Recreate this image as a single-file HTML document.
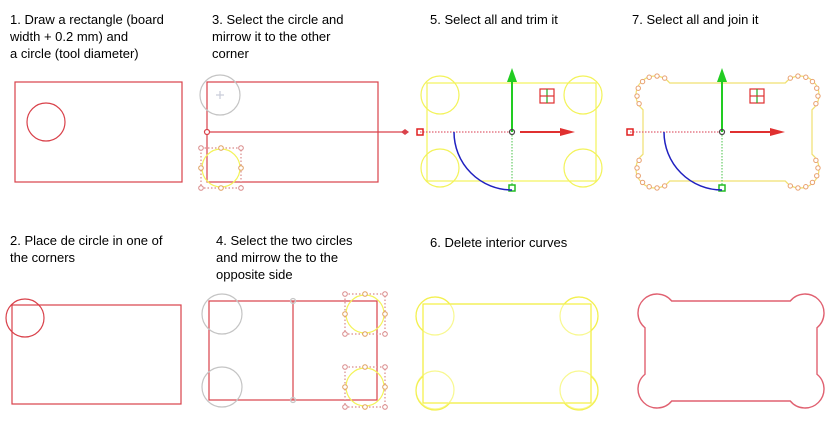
<!DOCTYPE html>
<html><head><meta charset="utf-8"><style>
body{margin:0;background:#fff;width:840px;height:426px;overflow:hidden}
svg text{font-family:"Liberation Sans",Arial,sans-serif;font-size:13px;fill:#000}
</style></head><body>
<svg id="s" width="840" height="426" viewBox="0 0 840 426">
<g>
<text x="10" y="24">1. Draw a rectangle (board</text>
<text x="10" y="41">width + 0.2 mm) and</text>
<text x="10" y="58">a circle (tool diameter)</text>
<text x="212" y="24">3. Select the circle and</text>
<text x="212" y="41">mirrow it to the other</text>
<text x="212" y="58">corner</text>
<text x="430" y="24">5. Select all and trim it</text>
<text x="632" y="24">7. Select all and join it</text>
<text x="10" y="245">2. Place de circle in one of</text>
<text x="10" y="262">the corners</text>
<text x="216" y="245">4. Select the two circles</text>
<text x="216" y="262">and mirrow the to the</text>
<text x="216" y="279">opposite side</text>
<text x="430" y="247">6. Delete interior curves</text>
</g>
<g id="g" fill="none"></g>
</svg>
<script>
const g=document.getElementById('g');
const NS='http://www.w3.org/2000/svg';
function el(t,a,name){const e=document.createElementNS(NS,t);for(const k in a)e.setAttribute(k,a[k]);


g.appendChild(e);return e;}
const RED='#d9414a',YEL='#f3f35a',GRY='#c4c4c4',HND='#d98a8a';
function rect(x,y,w,h,c,n){return el('rect',{x,y,width:w,height:h,stroke:c,'stroke-width':1.2},n);}
function circ(cx,cy,r,c,n,sw){return el('circle',{cx,cy,r,stroke:c,'stroke-width':sw||1.2},n);}
function line(x1,y1,x2,y2,c,n,dash,sw){const a={x1,y1,x2,y2,stroke:c,'stroke-width':sw||1.2};if(dash)a['stroke-dasharray']=dash;return el('line',a,n);}
function selBox(cx,cy,n){
  rect(cx-20,cy-20,40,40,HND,n+'-box').setAttribute('stroke-dasharray','1.5 2');
  circ(cx,cy,19,YEL,n);
  [[-20,-20],[0,-20],[20,-20],[-20,0],[20,0],[-20,20],[0,20],[20,20]].forEach(p=>{
    circ(cx+p[0],cy+p[1],2.3,(p[0]==0||p[1]==0)?'#e0a060':HND,n+'-handle',1).setAttribute('fill','#fff');});
}
function bone(x,y,w,h,off,r,c,n,sw){
  const dx=Math.sqrt(r*r-off*off);
  const d=`M${x+off+dx},${y} L${x+w-off-dx},${y} A${r},${r} 0 1 1 ${x+w},${y+off+dx}
  L${x+w},${y+h-off-dx} A${r},${r} 0 1 1 ${x+w-off-dx},${y+h} L${x+off+dx},${y+h}
  A${r},${r} 0 1 1 ${x},${y+h-off-dx} L${x},${y+off+dx} A${r},${r} 0 1 1 ${x+off+dx},${y} Z`;
  return el('path',{d,stroke:c,'stroke-width':sw||1.2},n);
}
function gizmo(ox,n){
  line(ox+85,132,ox+85,75,'#22cc22',n+'-y-axis',null,2);
  el('path',{d:`M${ox+80},82 L${ox+85},68 L${ox+90},82Z`,fill:'#22cc22'},n+'-y-arrow');
  line(ox+93,132,ox+135,132,'#e03030',n+'-x-axis',null,2);
  el('path',{d:`M${ox+133},128 L${ox+148},132 L${ox+133},136Z`,fill:'#e03030'},n+'-x-arrow');
  line(ox-7,132,ox+82,132,'#e06070',n+'-dotted-x',"1.5 1.5");
  line(ox+85,135,ox+85,186,'#66cc66',n+'-dotted-y',"1.5 1.5");
  rect(ox-10,129,6,6,'#e02020',n+'-handle-left').setAttribute('stroke-width',1.5);
  rect(ox+82,185,6,6,'#22bb22',n+'-handle-bottom').setAttribute('stroke-width',1.5);
  circ(ox+85,132,2.5,'#444',n+'-center');
  el('path',{d:`M${ox+27},132 A58,58 0 0 0 ${ox+85},190`,stroke:'#2020c0','stroke-width':1.5},n+'-rotation-arc');
  rect(ox+113,89,14,14,'#e03030',n+'-grid-icon');line(ox+120,89,ox+120,103,'#22aa22',n+'-grid-v');line(ox+113,96,ox+127,96,'#e03030',n+'-grid-h');
}
// Step 1
rect(15,82,167,100,RED,'step1-rectangle');circ(46,122,19,RED,'step1-circle');
// Step 3
rect(207,82,171,100,RED,'step3-rectangle');circ(220,95,20,GRY,'step3-original-circle');
line(216,95,224,95,'#c8ccd8','step3-center-h');line(220,91,220,99,'#c8ccd8','step3-center-v');
line(207,132,403,132,RED,'step3-mirror-line');circ(207,132,2.5,RED,'step3-mirror-start').setAttribute('fill','#fff');
el('path',{d:'M401,132 L405,129 L409,132 L405,135Z',fill:RED},'step3-mirror-end');
selBox(221,168,'step3-mirrored-circle');
// Step 5
rect(427,83,169,98,YEL,'step5-rectangle');
[[440,95],[583,95],[440,168],[583,168]].forEach(p=>circ(p[0],p[1],19,YEL,'step5-corner-circle'));
gizmo(427,'step5-gizmo');
// Step 7
bone(643,83,169,98,12,19,'#f0e070','step7-joined-shape');
[[643,95],[656,83],[812,95],[799,83],[643,169],[656,181],[812,169],[799,181]].forEach((p,i)=>{
  const cx=p[0]+(p[0]<700?13:-13)*(i%2==0?1:0), cy=p[1]+(p[1]<130?12:-12)*(i%2==1?1:0);
  const ccx=p[0]<700?656:799, ccy=p[1]<130?95:169;
  for(let k=0;k<5;k++){ }
});
[[656,95,1],[799,95,1],[656,169,1],[799,169,1]].forEach(c=>{
  const cx=c[0],cy=c[1],sx=cx<700?-1:1,sy=cy<130?-1:1;
  const a0=Math.atan2(0,0);
  for(let k=0;k<7;k++){const t=(k/6)*Math.PI*0.95+0.1;
    const ang=Math.atan2(sy,0)-(sx*sy>0?1:-1)*(t-Math.PI/2);
    const a=(sx<0?Math.PI:0)+ (sy<0?-1:1)*(sx<0?-1:1)*(t-0.1-0.05);
  }
  const base=Math.atan2(sy,sx);
  for(let k=-3;k<=3;k++){const a=base+k*0.42;
    circ(cx+19*Math.cos(a),cy+19*Math.sin(a),2.2,'#e8a070','step7-node',1).setAttribute('fill','#fff');}
});
gizmo(637,'step7-gizmo');
// Step 2
rect(12,305,169,99,RED,'step2-rectangle');circ(25,318,19,RED,'step2-circle');
// Step 4
rect(209,301,168,99,RED,'step4-rectangle');line(293,301,293,400,RED,'step4-mirror-line');
circ(293,301,2.5,GRY,'step4-mirror-top');circ(293,400,2.5,GRY,'step4-mirror-bottom');
circ(222,314,20,GRY,'step4-circle-top');circ(222,387,20,GRY,'step4-circle-bottom');
selBox(365,314,'step4-mirrored-top');selBox(365,387,'step4-mirrored-bottom');
// Step 6
rect(423,304,168,99,YEL,'step6-rectangle').setAttribute('stroke','#f5f040');
[[435,316],[579,316],[435,390],[579,390]].forEach(p=>circ(p[0],p[1],19,'#f8f890','step6-corner-circle'));
bone(423,304,168,99,12,19,'#f3f050','step6-remaining-curves');
// Step 8 final
bone(645,301,172,100,12,19,'#e06070','final-board-outline',1.4);
</script>
</body></html>
